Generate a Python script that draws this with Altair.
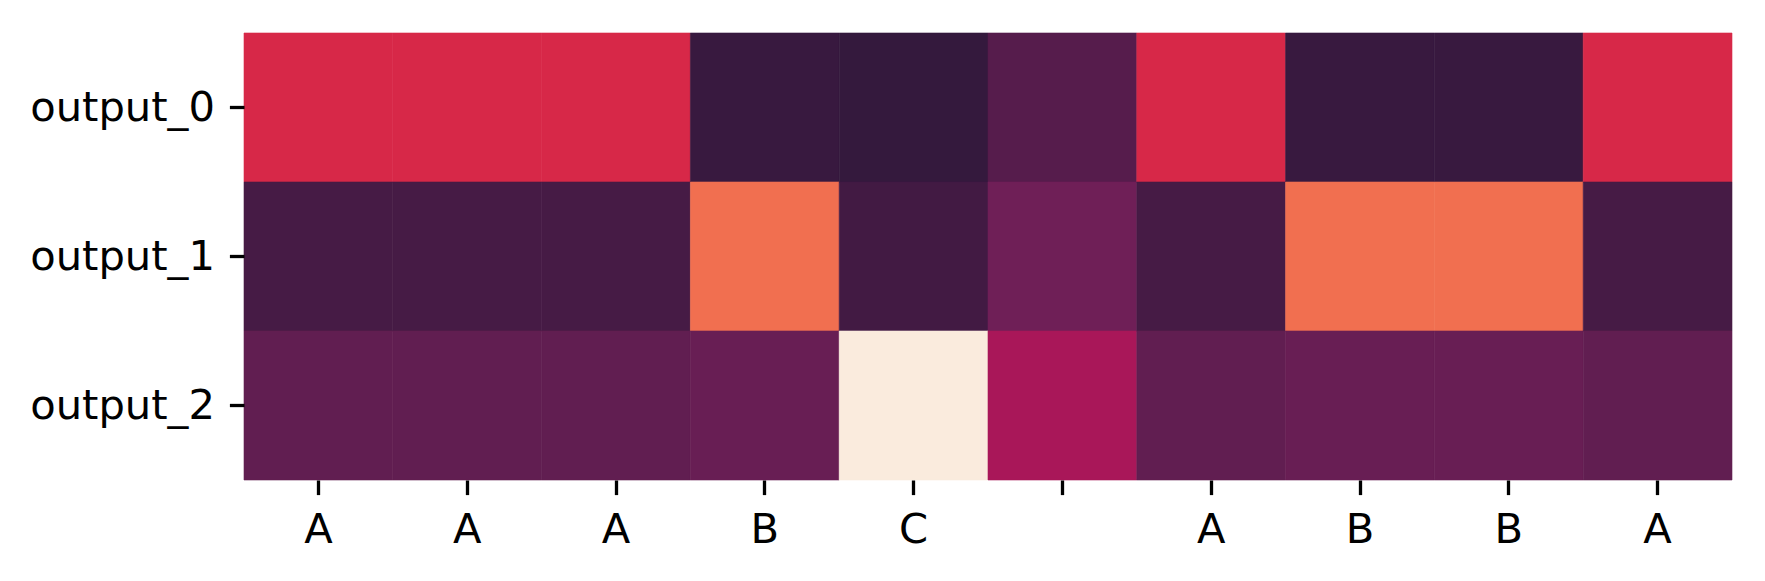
import json
import altair as alt
import pandas as pd

# ---- data ----
rows = ["output_0", "output_1", "output_2"]
col_labels = ["A", "A", "A", "B", "C", "", "A", "B", "B", "A"]
output_0 = [0.54, 0.54, 0.54, 0.15, 0.14, 0.223, 0.54, 0.15, 0.15, 0.54]
output_1 = [0.184, 0.184, 0.184, 0.70, 0.174, 0.284, 0.184, 0.70, 0.70, 0.184]
output_2 = [0.25, 0.25, 0.25, 0.266, 1.0, 0.42, 0.25, 0.266, 0.266, 0.25]

# rocket colormap stops
rocket_pos = [0, 1 / 7, 2 / 7, 3 / 7, 0.5, 4 / 7, 5 / 7, 6 / 7, 1]
rocket_cols = ["#03051a", "#35193e", "#701f57", "#ad1759", "#cb1b4f",
               "#e13342", "#f37651", "#f6b48f", "#faebdd"]

records = []
for name, vals in zip(rows, [output_0, output_1, output_2]):
    for i, v in enumerate(vals):
        records.append({"row": name, "col": i, "value": v})
df = pd.DataFrame(records)

label_expr = json.dumps(col_labels) + "[datum.value]"
cscale = alt.Scale(domain=rocket_pos, range=rocket_cols, interpolate="rgb")

chart = alt.Chart(df).mark_rect(strokeWidth=0.6).encode(
    x=alt.X("col:O", title=None,
            axis=alt.Axis(labelExpr=label_expr, labelAngle=0)),
    y=alt.Y("row:N", title=None, sort=rows),
    color=alt.Color("value:Q", legend=None, scale=cscale),
    stroke=alt.Stroke("value:Q", legend=None, scale=cscale),
).properties(
    width=1488, height=447,
    autosize=alt.AutoSizeParams(type="none"),
    padding={"left": 236, "top": 25, "right": 20, "bottom": 80},
).configure_view(stroke=None).configure_scale(
    bandPaddingInner=0, bandPaddingOuter=0
).configure_axis(
    domain=False, grid=False, labelLimit=0,
    labelFont="DejaVu Sans", labelFontSize=41.67, labelColor="black",
    tickColor="black", tickWidth=3.3, tickSize=14.6, labelPadding=15,
)

chart.save("out.html", embed_options={"renderer": "svg", "actions": False})
